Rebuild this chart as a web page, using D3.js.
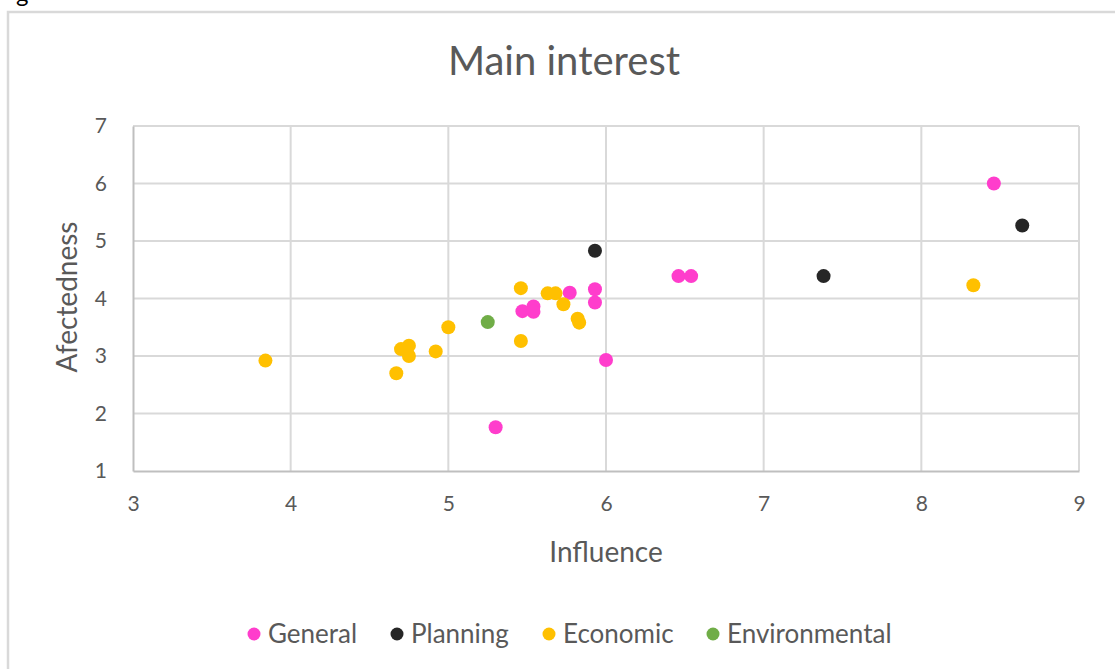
<!DOCTYPE html>
<html>
<head>
<meta charset="utf-8">
<script src="https://cdn.jsdelivr.net/npm/d3@7"></script>
<style>
  body { margin: 0; background: #fff; }
  svg text { font-family: Lato, "Open Sans", sans-serif; fill: #595959; }
</style>
</head>
<body>
<div id="chart"></div>
<script>
// values
var seriesNames = ["General", "Planning", "Economic", "Environmental"];

var generalPts = [
  [5.77, 4.10], [5.93, 4.16], [5.93, 3.93], [5.47, 3.78], [5.54, 3.86],
  [5.54, 3.77], [6.00, 2.93], [5.30, 1.76], [8.46, 6.00], [6.46, 4.39],
  [6.54, 4.39]
];
var planningPts = [[5.93, 4.83], [7.38, 4.39], [8.64, 5.27]];
var economicPts = [
  [5.46, 4.18], [5.63, 4.09], [5.68, 4.09], [5.73, 3.90], [5.82, 3.65],
  [5.83, 3.58], [5.00, 3.50], [5.46, 3.26], [4.92, 3.08], [4.70, 3.12],
  [4.75, 3.18], [4.75, 3.00], [4.67, 2.70], [3.84, 2.92], [8.33, 4.23]
];
var environmentalPts = [[5.25, 3.59]];

var xTicks = [3, 4, 5, 6, 7, 8, 9];
var yTicks = [1, 2, 3, 4, 5, 6, 7];

var seriesPts = [generalPts, planningPts, economicPts, environmentalPts];
var colors = ["#ff3dcc", "#262626", "#ffc000", "#70ad47"];

const W = 1115, H = 669;

var svg = d3.select("#chart").append("svg")
  .attr("width", W)
  .attr("height", H);

// clipped caption fragment above the chart
svg.append("text")
  .attr("x", 16)
  .attr("y", 2)
  .style("font-size", "24px")
  .style("fill", "#000")
  .text("g");

// chart frame
svg.append("rect")
  .attr("x", 8)
  .attr("y", 12)
  .attr("width", 1130)
  .attr("height", 700)
  .attr("fill", "#fff")
  .attr("stroke", "#d9d9d9")
  .attr("stroke-width", 2.5);

var x = d3.scaleLinear().domain([3, 9]).range([133, 1079]);
var y = d3.scaleLinear().domain([1, 7]).range([471, 126]);

// gridlines
svg.append("g")
  .selectAll("line.vg")
  .data(xTicks.slice(1))
  .enter().append("line")
  .attr("x1", d => x(d)).attr("x2", d => x(d))
  .attr("y1", y(7)).attr("y2", y(1))
  .attr("stroke", "#d9d9d9")
  .attr("stroke-width", 2);

svg.append("g")
  .selectAll("line.hg")
  .data(yTicks.slice(1))
  .enter().append("line")
  .attr("x1", x(3)).attr("x2", x(9))
  .attr("y1", d => y(d)).attr("y2", d => y(d))
  .attr("stroke", "#d9d9d9")
  .attr("stroke-width", 2);

// axes
var xAxis = svg.append("g")
  .attr("transform", "translate(0," + y(1) + ")")
  .call(d3.axisBottom(x).tickValues(xTicks).tickSize(0).tickPadding(25).tickFormat(d3.format("d")));
var yAxis = svg.append("g")
  .attr("transform", "translate(" + x(3) + ",0)")
  .call(d3.axisLeft(y).tickValues(yTicks).tickSize(0).tickPadding(26).tickFormat(d3.format("d")));

[xAxis, yAxis].forEach(function(a) {
  a.select(".domain").attr("stroke", "#bfbfbf").attr("stroke-width", 2);
  a.selectAll("text")
    .style("font-size", "21px")
    .style("font-family", "Lato, sans-serif")
    .attr("fill", "#595959");
});

// points
seriesPts.forEach(function(pts, i) {
  svg.append("g")
    .selectAll("circle")
    .data(pts)
    .enter().append("circle")
    .attr("cx", d => x(d[0]))
    .attr("cy", d => y(d[1]))
    .attr("r", 7)
    .attr("fill", colors[i]);
});

// titles
svg.append("text")
  .attr("x", 564)
  .attr("y", 75)
  .attr("text-anchor", "middle")
  .style("font-size", "40px")
  .text("Main interest");

svg.append("text")
  .attr("x", 606)
  .attr("y", 562)
  .attr("text-anchor", "middle")
  .style("font-size", "28px")
  .text("Influence");

svg.append("text")
  .attr("transform", "translate(77,297) rotate(-90)")
  .attr("text-anchor", "middle")
  .style("font-size", "28px")
  .text("Afectedness");

// legend
var legendX = [254, 397, 549, 713];
var legend = svg.append("g");
seriesNames.forEach(function(name, i) {
  legend.append("circle")
    .attr("cx", legendX[i])
    .attr("cy", 634)
    .attr("r", 6.5)
    .attr("fill", colors[i]);
  legend.append("text")
    .attr("x", legendX[i] + 14)
    .attr("y", 643)
    .style("font-size", "26px")
    .text(name);
});
</script>
</body>
</html>
